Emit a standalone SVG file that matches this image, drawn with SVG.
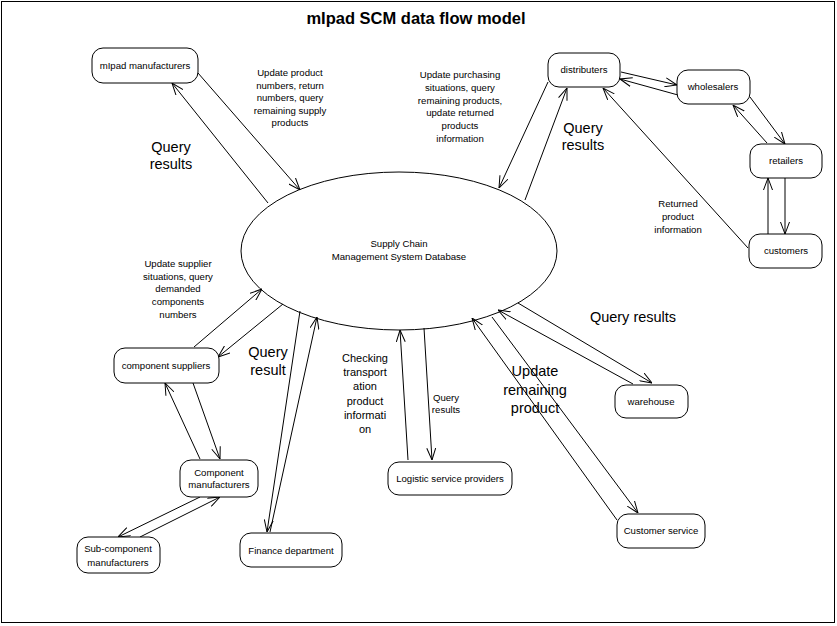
<svg xmlns="http://www.w3.org/2000/svg" width="837" height="626" viewBox="0 0 837 626">
<style>
.node rect{fill:#fff;stroke:#000;stroke-width:1}
.t{font-family:"Liberation Sans",Arial,sans-serif;font-size:9.6px;fill:#000;text-anchor:middle}
.big{font-family:"Liberation Sans",Arial,sans-serif;font-size:14.5px;fill:#000;text-anchor:middle}
.mid{font-family:"Liberation Sans",Arial,sans-serif;font-size:11px;fill:#000;text-anchor:middle}
#connectors path{fill:none;stroke:#000;stroke-width:1;marker-end:url(#arr)}
</style>
<defs>
<marker id="arr" viewBox="0 0 12 10" refX="12" refY="5" markerWidth="12" markerHeight="10" orient="auto" markerUnits="userSpaceOnUse">
<path d="M0,0.5 L12,5 L0,9.5" fill="none" stroke="#000" stroke-width="1"/>
</marker>
</defs>
<rect x="0" y="0" width="837" height="626" fill="#fff"/>
<rect x="1.5" y="1.5" width="833" height="621" fill="none" stroke="#000" stroke-width="1"/>
<text x="416" y="24" font-family="'Liberation Sans',Arial,sans-serif" font-size="16.5" font-weight="bold" text-anchor="middle">mIpad SCM data flow model</text>

<g id="database">
<ellipse cx="399" cy="251" rx="158" ry="79" fill="#fff" stroke="#000" stroke-width="1"/>
<text class="t" x="399" y="247">Supply Chain</text>
<text class="t" x="399" y="260">Management System Database</text>
</g>

<g id="connectors">
<path d="M198,73 L300,190"/>
<path d="M268,203 L172,83"/>
<path d="M548,82 L499,188"/>
<path d="M525,200 L567,88"/>
<path d="M748,248 L603,88"/>
<path d="M621,72 L677,85"/>
<path d="M678,95 L620,79"/>
<path d="M750,97 L785,144"/>
<path d="M767,143 L733,105"/>
<path d="M785,178 L785,234"/>
<path d="M768,234 L768,178"/>
<path d="M194,347 L262,289"/>
<path d="M283,304 L218,357"/>
<path d="M200,459 L165,383"/>
<path d="M193,383 L220,459"/>
<path d="M200,497 L118,537"/>
<path d="M140,537 L220,497"/>
<path d="M300,311 L267,532"/>
<path d="M270,532 L317,317"/>
<path d="M408,460 L400,330"/>
<path d="M424,328 L432,460"/>
<path d="M518,303 L652,383"/>
<path d="M633,384 L498,310"/>
<path d="M492,317 L638,513"/>
<path d="M617,520 L472,318"/>
</g>

<g id="mipad-manufacturers" class="node"><rect x="92" y="48" width="106" height="35" rx="11"/><text class="t" x="145" y="69">mIpad manufacturers</text></g>
<g id="distributers" class="node"><rect x="548" y="53" width="72" height="34" rx="11"/><text class="t" x="584" y="73">distributers</text></g>
<g id="wholesalers" class="node"><rect x="677" y="70" width="73" height="34" rx="11"/><text class="t" x="713" y="90">wholesalers</text></g>
<g id="retailers" class="node"><rect x="750" y="144" width="72" height="34" rx="11"/><text class="t" x="786" y="164">retailers</text></g>
<g id="customers" class="node"><rect x="749" y="234" width="73" height="34" rx="11"/><text class="t" x="786" y="254">customers</text></g>
<g id="component-suppliers" class="node"><rect x="114" y="348" width="105" height="35" rx="11"/><text class="t" x="166" y="369">component suppliers</text></g>
<g id="component-manufacturers" class="node"><rect x="180" y="460" width="78" height="37" rx="11"/><text class="t" x="219" y="475.5">Component</text><text class="t" x="219" y="488">manufacturers</text></g>
<g id="sub-component-manufacturers" class="node"><rect x="77" y="537" width="83" height="36" rx="11"/><text class="t" x="118" y="551.5">Sub-component</text><text class="t" x="118" y="565.5">manufacturers</text></g>
<g id="finance-department" class="node"><rect x="240" y="533" width="102" height="34" rx="11"/><text class="t" x="291" y="553.5">Finance department</text></g>
<g id="logistic-service-providers" class="node"><rect x="388" y="462" width="124" height="33" rx="11"/><text class="t" x="450" y="482">Logistic service providers</text></g>
<g id="warehouse" class="node"><rect x="615" y="385" width="73" height="33" rx="11"/><text class="t" x="651" y="405">warehouse</text></g>
<g id="customer-service" class="node"><rect x="617" y="514" width="88" height="34" rx="11"/><text class="t" x="661" y="534">Customer service</text></g>

<g id="labels">
<text class="t" x="290" y="76">Update product</text>
<text class="t" x="290" y="88.5">numbers, return</text>
<text class="t" x="290" y="101">numbers, query</text>
<text class="t" x="290" y="113.5">remaining supply</text>
<text class="t" x="290" y="126">products</text>
<text class="big" x="171" y="152">Query</text>
<text class="big" x="171" y="169">results</text>
<text class="t" x="460" y="77.5">Update purchasing</text>
<text class="t" x="460" y="90.5">situations, query</text>
<text class="t" x="460" y="103.5">remaining products,</text>
<text class="t" x="460" y="116">update returned</text>
<text class="t" x="460" y="129">products</text>
<text class="t" x="460" y="142">information</text>
<text class="big" x="583" y="133">Query</text>
<text class="big" x="583" y="150">results</text>
<text class="t" x="678" y="207">Returned</text>
<text class="t" x="678" y="220">product</text>
<text class="t" x="678" y="233">information</text>
<text class="t" x="178" y="267">Update supplier</text>
<text class="t" x="178" y="280">situations, query</text>
<text class="t" x="178" y="292">demanded</text>
<text class="t" x="178" y="305">components</text>
<text class="t" x="178" y="318">numbers</text>
<text class="big" x="268" y="357">Query</text>
<text class="big" x="268" y="375">result</text>
<text class="mid" x="365" y="362">Checking</text>
<text class="mid" x="365" y="376">transport</text>
<text class="mid" x="365" y="390">ation</text>
<text class="mid" x="365" y="405">product</text>
<text class="mid" x="365" y="419">informati</text>
<text class="mid" x="365" y="433">on</text>
<text class="t" x="446" y="401">Query</text>
<text class="t" x="446" y="413">results</text>
<text class="big" x="633" y="322">Query results</text>
<text class="big" x="535" y="376">Update</text>
<text class="big" x="535" y="395">remaining</text>
<text class="big" x="535" y="413">product</text>
</g>
</svg>
